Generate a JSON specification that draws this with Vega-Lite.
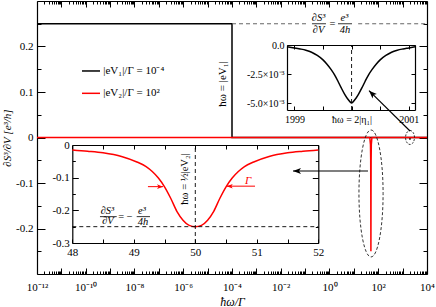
{
"$schema":"https://vega.github.io/schema/vega-lite/v6.json",
"width":390,"height":273,
"autosize":"none",
"padding":{"left":37,"top":1,"right":9,"bottom":33},
"background":"white",
"config":{"font":"Liberation Serif","view":{"stroke":null},
 "axis":{"grid":false,"domainColor":"black","domainWidth":1.2,"tickColor":"black","tickWidth":1,"labelColor":"black","titleColor":"black","labelFont":"Liberation Serif","titleFont":"Liberation Serif","labelFlush":false,"labelOverlap":false,"labelBound":false},
 "text":{"font":"Liberation Serif"}},
"datasets":{
 "mainBlack":[{"i":0,"x":1e-12,"y":0.25},{"i":1,"x":1e-4,"y":0.25},{"i":2,"x":1e-4,"y":0},{"i":3,"x":1990,"y":0},{"i":4,"x":2000,"y":-0.005},{"i":5,"x":2010,"y":0},{"i":6,"x":1e4,"y":0}],
 "mainRed":[{"x":1e-12,"y":0},{"x":45,"y":0},{"x":48,"y":-0.015},{"x":49,"y":-0.05},{"x":49.5,"y":-0.128},{"x":50,"y":-0.25},{"x":50.5,"y":-0.128},{"x":51,"y":-0.05},{"x":52,"y":-0.015},{"x":55,"y":0},{"x":1e4,"y":0}],
 "mainDash":[{"x":1e-4,"x2":0.131,"y":0.25},{"x":15,"x2":10000,"y":0.25}],
 "mainFormula":[{"x":0.354,"y":0.2626,"t":"∂S³"},{"x":0.354,"y":0.2363,"t":"∂V"},{"x":4.12,"y":0.2626,"t":"e³"},{"x":4.32,"y":0.2363,"t":"4h"}],
 "mainEq":[{"x":1.33,"y":0.25,"t":"="}],
 "mainBars":[{"x":0.191,"x2":0.718,"y":0.25},{"x":2.23,"x2":8.38,"y":0.25}],
 "legBlack":[{"x":7e-11,"x2":3.85e-10,"y":0.1462}],
 "legRed":[{"x":7e-11,"x2":3.85e-10,"y":0.0971}],
 "legText":[{"x":5.24e-10,"y":0.1462,"t":"|eV₁|/Γ = 10⁻⁴"},{"x":5.24e-10,"y":0.0971,"t":"|eV₂|/Γ = 10²"}],
 "rotText":[{"x":4.28e-5,"y":0.1176,"t":"ħω = |eV₁|"}],
 "arrows":[{"x":37.9,"y":-0.0736,"x2":0.0318,"y2":-0.0736},{"x":2009,"y":0.0143,"x2":41.8,"y2":0.1029}],
 "headH":[{"x":0.0318,"y":-0.0736}],
 "headD":[{"x":41.8,"y":0.1029}],
 "ellBig":[{"x":50.5,"y":-0.123}],
 "ellSmall":[{"x":2009,"y":0}],
 "ins1":[{"x":1998.87,"y":-0.00015},{"x":1999.0,"y":-0.00025},{"x":1999.1,"y":-0.00034},{"x":1999.2,"y":-0.00045},{"x":1999.3,"y":-0.00062},{"x":1999.4,"y":-0.0009},{"x":1999.5,"y":-0.00128},{"x":1999.57,"y":-0.00165},{"x":1999.64,"y":-0.0021},{"x":1999.7,"y":-0.00255},{"x":1999.76,"y":-0.0031},{"x":1999.82,"y":-0.0037},{"x":1999.88,"y":-0.00425},{"x":1999.94,"y":-0.0047},{"x":1999.97,"y":-0.00488},{"x":2000,"y":-0.005},{"x":2000.03,"y":-0.00488},{"x":2000.06,"y":-0.0047},{"x":2000.12,"y":-0.00425},{"x":2000.18,"y":-0.0037},{"x":2000.24,"y":-0.0031},{"x":2000.3,"y":-0.00255},{"x":2000.36,"y":-0.0021},{"x":2000.43,"y":-0.00165},{"x":2000.5,"y":-0.00128},{"x":2000.6,"y":-0.0009},{"x":2000.7,"y":-0.00062},{"x":2000.8,"y":-0.00045},{"x":2000.9,"y":-0.00034},{"x":2001.0,"y":-0.00025},{"x":2001.11,"y":-0.00015}],
 "ins1v":[{"x":2000,"y":-0.0056,"y2":0}],
 "ins2":[{"x":48,"y":-0.015},{"x":48.25,"y":-0.019},{"x":48.5,"y":-0.024},{"x":48.8,"y":-0.035},{"x":49.05,"y":-0.052},{"x":49.2,"y":-0.066},{"x":49.3,"y":-0.081},{"x":49.4,"y":-0.101},{"x":49.5,"y":-0.128},{"x":49.6,"y":-0.163},{"x":49.7,"y":-0.203},{"x":49.8,"y":-0.23},{"x":49.9,"y":-0.246},{"x":50,"y":-0.25},{"x":50.1,"y":-0.246},{"x":50.2,"y":-0.23},{"x":50.3,"y":-0.203},{"x":50.4,"y":-0.163},{"x":50.5,"y":-0.128},{"x":50.6,"y":-0.101},{"x":50.7,"y":-0.081},{"x":50.8,"y":-0.066},{"x":50.95,"y":-0.052},{"x":51.2,"y":-0.035},{"x":51.5,"y":-0.024},{"x":51.75,"y":-0.019},{"x":52,"y":-0.015}],
 "ins2dash":[{"x":48,"x2":52,"y":-0.25,"y2":-0.25},{"x":50,"x2":50,"y":-0.3,"y2":0}],
 "ins2text":[{"x":48.572,"y":-0.2018,"t":"∂S³"},{"x":48.58,"y":-0.2339,"t":"∂V"},{"x":49.133,"y":-0.2018,"t":"e³"},{"x":49.15,"y":-0.2355,"t":"4h"}],
 "ins2eq":[{"x":48.865,"y":-0.2193,"t":"= −"}],
 "ins2bars":[{"x":48.45,"x2":48.722,"y":-0.2193},{"x":49.047,"x2":49.263,"y":-0.2193}],
 "ins2rot":[{"x":49.833,"y":-0.104,"t":"ħω = ½|eV₂|"}],
 "ins2gamma":[{"x":50.857,"y":-0.11,"t":"Γ"}],
 "ins2arrows":[{"x":49.23,"x2":49.475,"y":-0.1275},{"x":50.971,"x2":50.511,"y":-0.126}],
 "ins2headR":[{"x":49.475,"y":-0.1275}],
 "ins2headL":[{"x":50.511,"y":-0.126}]
},
"resolve":{"scale":{"x":"independent","y":"independent"}},
"layer":[
{"resolve":{"axis":{"x":"independent","y":"independent"}},
 "layer":[
  {"data":{"name":"mainBlack"},"mark":{"type":"line","color":"black","strokeWidth":1.5},
   "encoding":{
    "x":{"field":"x","type":"quantitative","scale":{"type":"log","domain":[1e-12,10000],"nice":false},
     "axis":{"orient":"bottom",
      "values":[1e-12,2e-12,3e-12,4e-12,5e-12,6e-12,7e-12,8e-12,9e-12,1e-11,2e-11,3e-11,4e-11,5e-11,6e-11,7e-11,8e-11,9e-11,1e-10,2e-10,3e-10,4e-10,5e-10,6e-10,7e-10,8e-10,9e-10,1e-9,2e-9,3e-9,4e-9,5e-9,6e-9,7e-9,8e-9,9e-9,1e-8,2e-8,3e-8,4e-8,5e-8,6e-8,7e-8,8e-8,9e-8,1e-7,2e-7,3e-7,4e-7,5e-7,6e-7,7e-7,8e-7,9e-7,1e-6,2e-6,3e-6,4e-6,5e-6,6e-6,7e-6,8e-6,9e-6,1e-5,2e-5,3e-5,4e-5,5e-5,6e-5,7e-5,8e-5,9e-5,1e-4,2e-4,3e-4,4e-4,5e-4,6e-4,7e-4,8e-4,9e-4,1e-3,2e-3,3e-3,4e-3,5e-3,6e-3,7e-3,8e-3,9e-3,1e-2,2e-2,3e-2,4e-2,5e-2,6e-2,7e-2,8e-2,9e-2,1e-1,2e-1,3e-1,4e-1,5e-1,6e-1,7e-1,8e-1,9e-1,1,2,3,4,5,6,7,8,9,10,20,30,40,50,60,70,80,90,100,200,300,400,500,600,700,800,900,1000,2000,3000,4000,5000,6000,7000,8000,9000,10000],
      "labelExpr":"abs(log(datum.value)/LN10-round(log(datum.value)/LN10))<1e-6 && round(log(datum.value)/LN10)%2==0 ? '10'+['⁻¹²','⁻¹⁰','⁻⁸','⁻⁶','⁻⁴','⁻²','⁰','²','⁴'][(round(log(datum.value)/LN10)+12)/2] : ''",
      "tickSize":{"condition":{"test":"abs(log(datum.value)/LN10-round(log(datum.value)/LN10))<1e-6","value":-6},"value":-3},
      "labelPadding":13,"labelFontSize":11,
      "title":"ħω/Γ","titleFontSize":12,"titleFontStyle":"italic","titleFontWeight":"normal","titlePadding":1}},
    "y":{"field":"y","type":"quantitative","scale":{"domain":[-0.3,0.3],"nice":false,"zero":false},
     "axis":{"orient":"left","values":[-0.25,-0.2,-0.15,-0.1,-0.05,0,0.05,0.1,0.15,0.2,0.25],
      "labelExpr":"abs(datum.value*10-round(datum.value*10))<1e-6 ? ''+datum.value : ''",
      "tickSize":{"condition":{"test":"abs(datum.value*10-round(datum.value*10))<1e-6","value":-8},"value":-4},
      "labelPadding":12,"labelFontSize":11,
      "title":"∂S³/∂V   [e³/h]","titleFontSize":11,"titleFontStyle":"italic","titleFontWeight":"normal","titlePadding":3}},
    "order":{"field":"i","type":"quantitative"}}},
  {"data":{"name":"mainDash"},"mark":{"type":"rule","color":"#666666","strokeDash":[4,3],"strokeWidth":1},
   "encoding":{
    "x":{"field":"x","type":"quantitative","scale":{"type":"log","domain":[1e-12,10000],"nice":false},
     "axis":{"orient":"top","labels":false,"title":null,
      "values":[1e-12,2e-12,3e-12,4e-12,5e-12,6e-12,7e-12,8e-12,9e-12,1e-11,2e-11,3e-11,4e-11,5e-11,6e-11,7e-11,8e-11,9e-11,1e-10,2e-10,3e-10,4e-10,5e-10,6e-10,7e-10,8e-10,9e-10,1e-9,2e-9,3e-9,4e-9,5e-9,6e-9,7e-9,8e-9,9e-9,1e-8,2e-8,3e-8,4e-8,5e-8,6e-8,7e-8,8e-8,9e-8,1e-7,2e-7,3e-7,4e-7,5e-7,6e-7,7e-7,8e-7,9e-7,1e-6,2e-6,3e-6,4e-6,5e-6,6e-6,7e-6,8e-6,9e-6,1e-5,2e-5,3e-5,4e-5,5e-5,6e-5,7e-5,8e-5,9e-5,1e-4,2e-4,3e-4,4e-4,5e-4,6e-4,7e-4,8e-4,9e-4,1e-3,2e-3,3e-3,4e-3,5e-3,6e-3,7e-3,8e-3,9e-3,1e-2,2e-2,3e-2,4e-2,5e-2,6e-2,7e-2,8e-2,9e-2,1e-1,2e-1,3e-1,4e-1,5e-1,6e-1,7e-1,8e-1,9e-1,1,2,3,4,5,6,7,8,9,10,20,30,40,50,60,70,80,90,100,200,300,400,500,600,700,800,900,1000,2000,3000,4000,5000,6000,7000,8000,9000,10000],
      "tickSize":{"condition":{"test":"abs(log(datum.value)/LN10-round(log(datum.value)/LN10))<1e-6","value":-6},"value":-3}}},
    "x2":{"field":"x2"},
    "y":{"field":"y","type":"quantitative","scale":{"domain":[-0.3,0.3],"nice":false,"zero":false},
     "axis":{"orient":"right","labels":false,"title":null,"values":[-0.25,-0.2,-0.15,-0.1,-0.05,0,0.05,0.1,0.15,0.2,0.25],
      "tickSize":{"condition":{"test":"abs(datum.value*10-round(datum.value*10))<1e-6","value":-8},"value":-4}}}}},
  {"data":{"name":"mainRed"},"mark":{"type":"line","color":"#ff0000","strokeWidth":1.5},
   "encoding":{
    "x":{"field":"x","type":"quantitative","scale":{"type":"log","domain":[1e-12,10000],"nice":false},"axis":null},
    "y":{"field":"y","type":"quantitative","scale":{"domain":[-0.3,0.3],"nice":false,"zero":false},"axis":null}}},
  {"data":{"name":"legBlack"},"mark":{"type":"rule","color":"black","strokeWidth":1.5},
   "encoding":{
    "x":{"field":"x","type":"quantitative","scale":{"type":"log","domain":[1e-12,10000],"nice":false},"axis":null},
    "x2":{"field":"x2"},
    "y":{"field":"y","type":"quantitative","scale":{"domain":[-0.3,0.3],"nice":false,"zero":false},"axis":null}}},
  {"data":{"name":"legRed"},"mark":{"type":"rule","color":"#ff0000","strokeWidth":1.5},
   "encoding":{
    "x":{"field":"x","type":"quantitative","scale":{"type":"log","domain":[1e-12,10000],"nice":false},"axis":null},
    "x2":{"field":"x2"},
    "y":{"field":"y","type":"quantitative","scale":{"domain":[-0.3,0.3],"nice":false,"zero":false},"axis":null}}},
  {"data":{"name":"legText"},"mark":{"type":"text","align":"left","baseline":"middle","fontSize":11,"color":"black"},
   "encoding":{
    "x":{"field":"x","type":"quantitative","scale":{"type":"log","domain":[1e-12,10000],"nice":false},"axis":null},
    "y":{"field":"y","type":"quantitative","scale":{"domain":[-0.3,0.3],"nice":false,"zero":false},"axis":null},
    "text":{"field":"t"}}},
  {"data":{"name":"rotText"},"mark":{"type":"text","align":"center","baseline":"middle","fontSize":11,"angle":270,"color":"black"},
   "encoding":{
    "x":{"field":"x","type":"quantitative","scale":{"type":"log","domain":[1e-12,10000],"nice":false},"axis":null},
    "y":{"field":"y","type":"quantitative","scale":{"domain":[-0.3,0.3],"nice":false,"zero":false},"axis":null},
    "text":{"field":"t"}}},
  {"data":{"name":"mainFormula"},"mark":{"type":"text","align":"center","baseline":"middle","fontSize":10.5,"fontStyle":"italic","color":"black"},
   "encoding":{
    "x":{"field":"x","type":"quantitative","scale":{"type":"log","domain":[1e-12,10000],"nice":false},"axis":null},
    "y":{"field":"y","type":"quantitative","scale":{"domain":[-0.3,0.3],"nice":false,"zero":false},"axis":null},
    "text":{"field":"t"}}},
  {"data":{"name":"mainEq"},"mark":{"type":"text","align":"center","baseline":"middle","fontSize":10.5,"color":"black"},
   "encoding":{
    "x":{"field":"x","type":"quantitative","scale":{"type":"log","domain":[1e-12,10000],"nice":false},"axis":null},
    "y":{"field":"y","type":"quantitative","scale":{"domain":[-0.3,0.3],"nice":false,"zero":false},"axis":null},
    "text":{"field":"t"}}},
  {"data":{"name":"mainBars"},"mark":{"type":"rule","color":"black","strokeWidth":0.8},
   "encoding":{
    "x":{"field":"x","type":"quantitative","scale":{"type":"log","domain":[1e-12,10000],"nice":false},"axis":null},
    "x2":{"field":"x2"},
    "y":{"field":"y","type":"quantitative","scale":{"domain":[-0.3,0.3],"nice":false,"zero":false},"axis":null}}},
  {"data":{"name":"arrows"},"mark":{"type":"rule","color":"black","strokeWidth":1.2},
   "encoding":{
    "x":{"field":"x","type":"quantitative","scale":{"type":"log","domain":[1e-12,10000],"nice":false},"axis":null},
    "x2":{"field":"x2"},
    "y":{"field":"y","type":"quantitative","scale":{"domain":[-0.3,0.3],"nice":false,"zero":false},"axis":null},
    "y2":{"field":"y2"}}},
  {"data":{"name":"headH"},"mark":{"type":"point","shape":"M0,0 L1,-0.38 L0.75,0 L1,0.38 Z","size":256,"angle":0,"filled":true,"color":"black","opacity":1},
   "encoding":{
    "x":{"field":"x","type":"quantitative","scale":{"type":"log","domain":[1e-12,10000],"nice":false},"axis":null},
    "y":{"field":"y","type":"quantitative","scale":{"domain":[-0.3,0.3],"nice":false,"zero":false},"axis":null}}},
  {"data":{"name":"headD"},"mark":{"type":"point","shape":"M0,0 L1,-0.38 L0.75,0 L1,0.38 Z","size":256,"angle":44.5,"filled":true,"color":"black","opacity":1},
   "encoding":{
    "x":{"field":"x","type":"quantitative","scale":{"type":"log","domain":[1e-12,10000],"nice":false},"axis":null},
    "y":{"field":"y","type":"quantitative","scale":{"domain":[-0.3,0.3],"nice":false,"zero":false},"axis":null}}},
  {"data":{"name":"ellBig"},"mark":{"type":"point","shape":"M0,-1 C0.105,-1 0.19,-0.552 0.19,0 C0.19,0.552 0.105,1 0,1 C-0.105,1 -0.19,0.552 -0.19,0 C-0.19,-0.552 -0.105,-1 0,-1 Z","size":16129,"filled":false,"color":"black","strokeWidth":0.8,"strokeDash":[3,2],"opacity":1},
   "encoding":{
    "x":{"field":"x","type":"quantitative","scale":{"type":"log","domain":[1e-12,10000],"nice":false},"axis":null},
    "y":{"field":"y","type":"quantitative","scale":{"domain":[-0.3,0.3],"nice":false,"zero":false},"axis":null}}},
  {"data":{"name":"ellSmall"},"mark":{"type":"point","shape":"M0,-1 C0.353,-1 0.64,-0.552 0.64,0 C0.64,0.552 0.353,1 0,1 C-0.353,1 -0.64,0.552 -0.64,0 C-0.64,-0.552 -0.353,-1 0,-1 Z","size":196,"filled":false,"color":"black","strokeWidth":0.8,"strokeDash":[2,1.5],"opacity":1},
   "encoding":{
    "x":{"field":"x","type":"quantitative","scale":{"type":"log","domain":[1e-12,10000],"nice":false},"axis":null},
    "y":{"field":"y","type":"quantitative","scale":{"domain":[-0.3,0.3],"nice":false,"zero":false},"axis":null}}}
 ]},
{"resolve":{"axis":{"x":"independent","y":"independent"}},
 "layer":[
  {"data":{"name":"ins1"},"mark":{"type":"line","color":"black","strokeWidth":1.5,"interpolate":"monotone"},
   "encoding":{
    "x":{"field":"x","type":"quantitative","scale":{"domain":[1998.87,2001.11],"range":[250,378],"nice":false,"zero":false},
     "axis":{"orient":"bottom","offset":-164,"values":[1999,1999.5,2000,2000.5,2001],
      "labelExpr":"datum.value==1999 ? '1999' : datum.value==2001 ? '2001' : datum.value==2000 ? 'ħω = 2|η₁|' : ''",
      "tickSize":-4,"labelPadding":8,"labelFontSize":10,"title":null}},
    "y":{"field":"y","type":"quantitative","scale":{"domain":[-0.0056,0],"range":[109,44],"nice":false,"zero":false},
     "axis":{"orient":"left","offset":-250,"values":[0,-0.0025,-0.005],
      "labelExpr":"datum.value==0 ? '0.0' : datum.value < -0.004 ? '-5.0×10⁻³' : '-2.5×10⁻³'",
      "tickSize":-4,"labelPadding":7,"labelFontSize":10,"title":null}}}},
  {"data":{"name":"ins1v"},"mark":{"type":"rule","color":"black","strokeDash":[4,3],"strokeWidth":0.9},
   "encoding":{
    "x":{"field":"x","type":"quantitative","scale":{"domain":[1998.87,2001.11],"range":[250,378],"nice":false,"zero":false},
     "axis":{"orient":"top","offset":-44,"values":[1999,1999.5,2000,2000.5,2001],"labels":false,"tickSize":-4,"title":null}},
    "y":{"field":"y","type":"quantitative","scale":{"domain":[-0.0056,0],"range":[109,44],"nice":false,"zero":false},
     "axis":{"orient":"right","offset":-12,"values":[0,-0.0025,-0.005],"labels":false,"tickSize":-4,"title":null}},
    "y2":{"field":"y2"}}}
 ]},
{"resolve":{"axis":{"x":"independent","y":"independent"}},
 "layer":[
  {"data":{"name":"ins2"},"mark":{"type":"line","color":"#ff0000","strokeWidth":1.5,"interpolate":"monotone"},
   "encoding":{
    "x":{"field":"x","type":"quantitative","scale":{"domain":[48,52],"range":[35.3,281.3],"nice":false,"zero":false},
     "axis":{"orient":"bottom","offset":-31,"values":[48,48.5,49,49.5,50,50.5,51,51.5,52],
      "labelExpr":"datum.value%1==0 ? ''+datum.value : ''",
      "tickSize":-4,"labelPadding":7.5,"labelFontSize":11,"title":null}},
    "y":{"field":"y","type":"quantitative","scale":{"domain":[-0.3,0],"range":[242,144],"nice":false,"zero":false},
     "axis":{"orient":"left","offset":-35.3,"values":[0,-0.05,-0.1,-0.15,-0.2,-0.25,-0.3],
      "labelExpr":"abs(datum.value*10-round(datum.value*10))<1e-6 ? ''+datum.value : ''",
      "tickSize":{"condition":{"test":"abs(datum.value*10-round(datum.value*10))<1e-6","value":-6},"value":-3},
      "labelPadding":9,"labelFontSize":11,"title":null}}}},
  {"data":{"name":"ins2dash"},"mark":{"type":"rule","color":"black","strokeDash":[4,3],"strokeWidth":0.9},
   "encoding":{
    "x":{"field":"x","type":"quantitative","scale":{"domain":[48,52],"range":[35.3,281.3],"nice":false,"zero":false},
     "axis":{"orient":"top","offset":-144,"values":[48,48.5,49,49.5,50,50.5,51,51.5,52],"labels":false,"tickSize":-4,"title":null}},
    "x2":{"field":"x2"},
    "y":{"field":"y","type":"quantitative","scale":{"domain":[-0.3,0],"range":[242,144],"nice":false,"zero":false},
     "axis":{"orient":"right","offset":-108.7,"values":[0,-0.05,-0.1,-0.15,-0.2,-0.25,-0.3],"labels":false,
      "tickSize":{"condition":{"test":"abs(datum.value*10-round(datum.value*10))<1e-6","value":-6},"value":-3},"title":null}},
    "y2":{"field":"y2"}}},
  {"data":{"name":"ins2text"},"mark":{"type":"text","align":"center","baseline":"middle","fontSize":10.5,"fontStyle":"italic","color":"black"},
   "encoding":{
    "x":{"field":"x","type":"quantitative","scale":{"domain":[48,52],"range":[35.3,281.3],"nice":false,"zero":false},"axis":null},
    "y":{"field":"y","type":"quantitative","scale":{"domain":[-0.3,0],"range":[242,144],"nice":false,"zero":false},"axis":null},
    "text":{"field":"t"}}},
  {"data":{"name":"ins2eq"},"mark":{"type":"text","align":"center","baseline":"middle","fontSize":10.5,"color":"black"},
   "encoding":{
    "x":{"field":"x","type":"quantitative","scale":{"domain":[48,52],"range":[35.3,281.3],"nice":false,"zero":false},"axis":null},
    "y":{"field":"y","type":"quantitative","scale":{"domain":[-0.3,0],"range":[242,144],"nice":false,"zero":false},"axis":null},
    "text":{"field":"t"}}},
  {"data":{"name":"ins2bars"},"mark":{"type":"rule","color":"black","strokeWidth":0.8},
   "encoding":{
    "x":{"field":"x","type":"quantitative","scale":{"domain":[48,52],"range":[35.3,281.3],"nice":false,"zero":false},"axis":null},
    "x2":{"field":"x2"},
    "y":{"field":"y","type":"quantitative","scale":{"domain":[-0.3,0],"range":[242,144],"nice":false,"zero":false},"axis":null}}},
  {"data":{"name":"ins2rot"},"mark":{"type":"text","align":"center","baseline":"middle","fontSize":10.5,"angle":270,"color":"black"},
   "encoding":{
    "x":{"field":"x","type":"quantitative","scale":{"domain":[48,52],"range":[35.3,281.3],"nice":false,"zero":false},"axis":null},
    "y":{"field":"y","type":"quantitative","scale":{"domain":[-0.3,0],"range":[242,144],"nice":false,"zero":false},"axis":null},
    "text":{"field":"t"}}},
  {"data":{"name":"ins2gamma"},"mark":{"type":"text","align":"center","baseline":"middle","fontSize":11,"fontStyle":"italic","color":"#ff0000"},
   "encoding":{
    "x":{"field":"x","type":"quantitative","scale":{"domain":[48,52],"range":[35.3,281.3],"nice":false,"zero":false},"axis":null},
    "y":{"field":"y","type":"quantitative","scale":{"domain":[-0.3,0],"range":[242,144],"nice":false,"zero":false},"axis":null},
    "text":{"field":"t"}}},
  {"data":{"name":"ins2arrows"},"mark":{"type":"rule","color":"#ff0000","strokeWidth":1},
   "encoding":{
    "x":{"field":"x","type":"quantitative","scale":{"domain":[48,52],"range":[35.3,281.3],"nice":false,"zero":false},"axis":null},
    "x2":{"field":"x2"},
    "y":{"field":"y","type":"quantitative","scale":{"domain":[-0.3,0],"range":[242,144],"nice":false,"zero":false},"axis":null}}},
  {"data":{"name":"ins2headR"},"mark":{"type":"point","shape":"M0,0 L1,-0.38 L0.75,0 L1,0.38 Z","size":144,"angle":180,"filled":true,"color":"#ff0000","opacity":1},
   "encoding":{
    "x":{"field":"x","type":"quantitative","scale":{"domain":[48,52],"range":[35.3,281.3],"nice":false,"zero":false},"axis":null},
    "y":{"field":"y","type":"quantitative","scale":{"domain":[-0.3,0],"range":[242,144],"nice":false,"zero":false},"axis":null}}},
  {"data":{"name":"ins2headL"},"mark":{"type":"point","shape":"M0,0 L1,-0.38 L0.75,0 L1,0.38 Z","size":144,"angle":0,"filled":true,"color":"#ff0000","opacity":1},
   "encoding":{
    "x":{"field":"x","type":"quantitative","scale":{"domain":[48,52],"range":[35.3,281.3],"nice":false,"zero":false},"axis":null},
    "y":{"field":"y","type":"quantitative","scale":{"domain":[-0.3,0],"range":[242,144],"nice":false,"zero":false},"axis":null}}}
 ]}
]
}
